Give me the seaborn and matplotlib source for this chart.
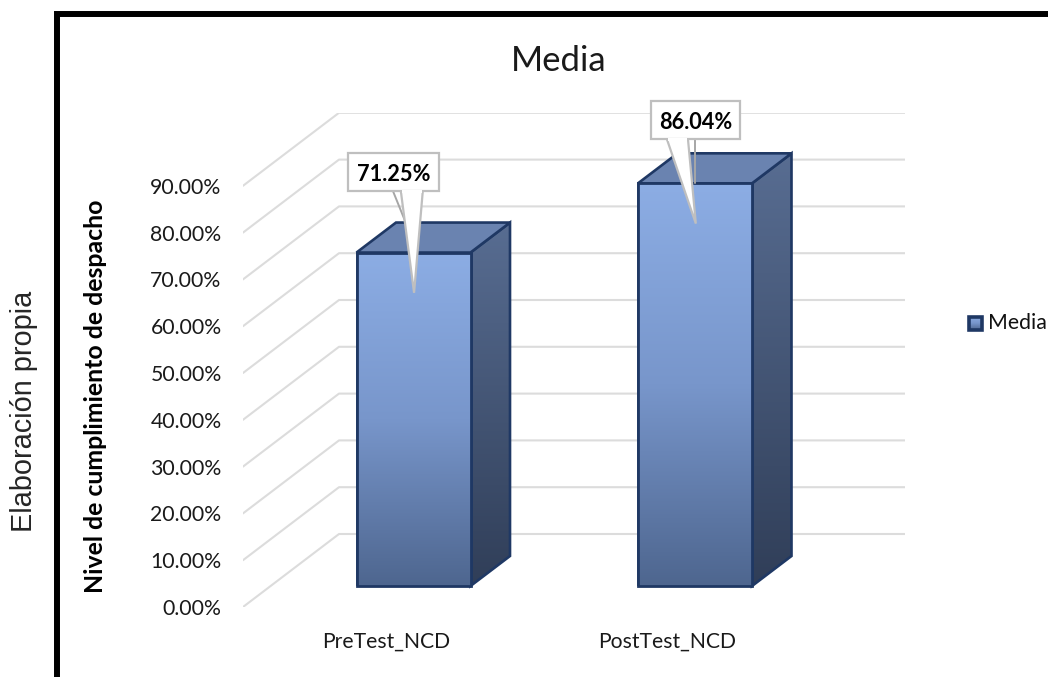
import numpy as np
import matplotlib
matplotlib.use("Agg")
import matplotlib.pyplot as plt
from matplotlib.colors import LinearSegmentedColormap
from matplotlib.patches import Polygon, Rectangle
from matplotlib.ticker import PercentFormatter
import pandas as pd
import seaborn as sns

# ---- data ----
categories = ["PreTest_NCD", "PostTest_NCD"]
media = [71.25, 86.04]
tick_values = [0, 10, 20, 30, 40, 50, 60, 70, 80, 90]
title_text = "Media"
y_label = "Nivel de cumplimiento de despacho"
side_note = "Elaboración propia"
series_name = "Media"

W, H = 1048, 677
sns.set_theme(style="white")
plt.rcParams["font.family"] = ["Lato", "DejaVu Sans"]
fig = plt.figure(figsize=(W / 100, H / 100), dpi=100)


def px_axes(x0, y0, x1, y1, **kw):
    return fig.add_axes([x0 / W, 1 - y1 / H, (x1 - x0) / W, (y1 - y0) / H], **kw)


K = 4.68        # pixels per percentage point
LEFT, RIGHT, TOP = 243, 905, 113
WALL0, BAR0 = 607, 586
DX, DY = 39.5, 30
GRID = "#dcdcdc"
EDGE = "#1f3864"

# ---- wall axes: tick labels and the grid on the side and back walls ----
wall = px_axes(LEFT, TOP, RIGHT, WALL0)
wall.set_xlim(LEFT, RIGHT)
wall.set_ylim(0, (WALL0 - TOP) / K)
back_rise = (WALL0 - 534) / K
for t in tick_values:
    sns.lineplot(x=[LEFT, 339, RIGHT], y=[t, t + back_rise, t + back_rise],
                 ax=wall, color=GRID, lw=1.5, legend=False, estimator=None, sort=False)
sns.despine(ax=wall, left=True, bottom=True)
wall.set_xticks([])
wall.set_yticks(tick_values)
wall.yaxis.set_major_formatter(PercentFormatter(100, decimals=2))
wall.tick_params(axis="y", length=0, pad=15.4, labelsize=15.3, labelcolor="#1a1a1a")
wall.set_ylabel(y_label, fontsize=17.9, fontweight="bold", color="black", labelpad=0)
wall.yaxis.set_label_coords((107 - LEFT) / (RIGHT - LEFT), (WALL0 - 396.5) / (WALL0 - TOP))

# ---- bar axes ----
ax = px_axes(LEFT, TOP, RIGHT, BAR0)
ax.patch.set_alpha(0)
SPACING = 695 - 413.5
ax.set_xlim((LEFT - 413.5) / SPACING, (RIGHT - 413.5) / SPACING)
ax.set_ylim(0, (BAR0 - TOP) / K)
df = pd.DataFrame({"cat": categories, "val": media})
BAR_W = 114 / SPACING
sns.barplot(data=df, x="cat", y="val", ax=ax, width=BAR_W, color="#8aaae0",
            edgecolor=EDGE, linewidth=2.0, zorder=5, errorbar=None, native_scale=False)
ax.set_xlim((LEFT - 413.5) / SPACING, (RIGHT - 413.5) / SPACING)
ax.set_ylim(0, (BAR0 - TOP) / K)
sns.despine(ax=ax, left=True, bottom=True)
ax.set_xlabel("")
ax.set_ylabel("")
ax.set_yticks([])
label_shift = 27.5 / SPACING
ax.set_xticks([i - label_shift for i in range(len(categories))], categories)
ax.tick_params(axis="x", length=0, pad=32.8, labelsize=15.2, labelcolor="#1a1a1a")

front_cmap = LinearSegmentedColormap.from_list("front", ["#8cade4", "#7896cb", "#4e668f"])
side_cmap = LinearSegmentedColormap.from_list("side", ["#586d92", "#303e58"])
grad = np.linspace(0, 1, 256).reshape(-1, 1)
ddx = DX / SPACING
ddy = DY / K
for i, v in enumerate(media):
    x0, x1 = i - BAR_W / 2, i + BAR_W / 2
    # front gradient
    im = ax.imshow(grad, cmap=front_cmap, extent=(x0, x1, 0, v), aspect="auto",
                   origin="upper", zorder=6)
    im.set_clip_path(Rectangle((x0, 0), x1 - x0, v, transform=ax.transData))
    ax.add_patch(Rectangle((x0, 0), x1 - x0, v, fill=False, ec=EDGE, lw=2.0, zorder=7, clip_on=False))
    # side face
    side = Polygon([(x1, 0), (x1 + ddx, ddy), (x1 + ddx, v + ddy), (x1, v)],
                   closed=True, fc="none", ec=EDGE, lw=1.9, zorder=5, clip_on=False)
    ax.add_patch(side)
    im2 = ax.imshow(grad, cmap=side_cmap, extent=(x1, x1 + ddx, 0, v + ddy), aspect="auto",
                    origin="upper", zorder=4.5)
    im2.set_clip_path(side)
    # top face
    ax.add_patch(Polygon([(x0, v), (x0 + ddx, v + ddy), (x1 + ddx, v + ddy), (x1, v)],
                         closed=True, fc="#6a83b0", ec=EDGE, lw=1.9, zorder=5, clip_on=False))
ax.set_xlim((LEFT - 413.5) / SPACING, (RIGHT - 413.5) / SPACING)
ax.set_ylim(0, (BAR0 - TOP) / K)

# ---- data callouts ----
CALL = "#bfbfbf"
box_left = [-0.232, 0.843]
box_right = [0.091, 1.16]
box_bottom = [84.4, 95.5]
box_top = [92.5, 103.6]
wedge_left = [-0.045, 0.9]
wedge_right = [0.033, 0.975]
tip_drop = [8.6, 8.6]
tip_x = [0.002, 1.003]
tail_start = [-0.073, 0.9995]
tail_end = [-0.03, 0.9995]
tail_end_y = [78.0, 86.04]
for i, v in enumerate(media):
    ax.plot([tail_start[i], tail_end[i]], [box_bottom[i], tail_end_y[i]], color="#a6a6a6", lw=1.4, zorder=8)
    ax.add_patch(Polygon([(wedge_left[i], box_bottom[i]), (tip_x[i], v - tip_drop[i]),
                          (wedge_right[i], box_bottom[i])], closed=False, fc="white",
                         ec=CALL, lw=1.6, zorder=9, joinstyle="miter", clip_on=False))
    ax.add_patch(Rectangle((box_left[i], box_bottom[i]), box_right[i] - box_left[i],
                           box_top[i] - box_bottom[i], fc="white", ec=CALL, lw=1.6, zorder=10, clip_on=False))
    ax.add_patch(Polygon([(wedge_left[i] + .004, box_bottom[i] + .3), (wedge_right[i] - .004, box_bottom[i] + .3),
                          (wedge_right[i] - .004, box_bottom[i] - .5), (wedge_left[i] + .004, box_bottom[i] - .5)],
                         fc="white", ec="none", zorder=11, clip_on=False))
    ax.text((box_left[i] + box_right[i]) / 2, (box_bottom[i] + box_top[i]) / 2, f"{v:.2f}%",
            ha="center", va="center_baseline", fontsize=15.7, fontweight="bold", color="black",
            zorder=12, clip_on=False)

# ---- figure level furniture ----
fig.add_artist(Rectangle((56.5 / W, -0.1), 1.1, 1 - 14 / H + 0.1, transform=fig.transFigure,
                         fill=False, ec="black", lw=4.3))
fig.text(559 / W, 1 - 61 / H, title_text, fontsize=25, color="#1a1a1a", ha="center", va="center")
fig.text(24 / W, 1 - 411 / H, side_note, fontsize=20.8, rotation=90, family="Liberation Sans",
         color="#262626", ha="center", va="center")

# legend key and label
leg = px_axes(967, 315, 984, 332)
leg.set_xticks([]); leg.set_yticks([])
for s in leg.spines.values():
    s.set_visible(False)
leg.add_patch(Rectangle((0.1, 0.1), 0.8, 0.8, transform=leg.transAxes, fc="none", ec=EDGE, lw=2.6))
leg.imshow(grad, cmap=front_cmap, extent=(0.1, 0.9, 0.1, 0.9), aspect="auto", origin="upper")
leg.set_xlim(0, 1); leg.set_ylim(0, 1)
fig.text(988 / W, 1 - 323 / H, series_name, fontsize=15.3, color="#111111", ha="left", va="center")

fig.savefig("out.png", dpi=100)
